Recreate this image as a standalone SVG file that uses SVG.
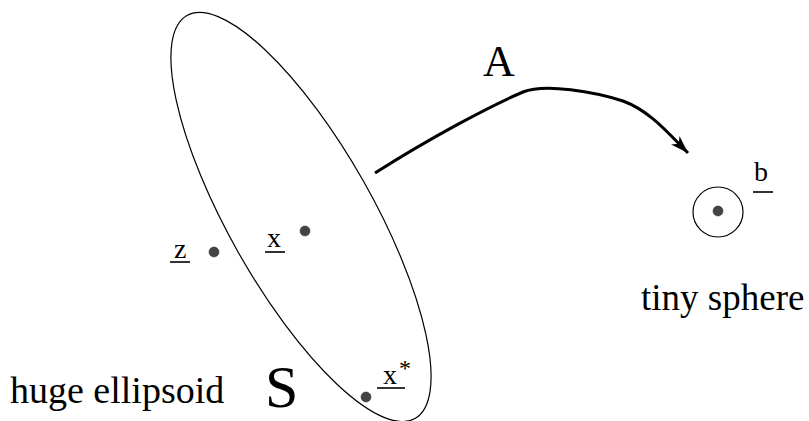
<svg xmlns="http://www.w3.org/2000/svg" width="809" height="421" viewBox="0 0 809 421">
<style>
.t{font-family:'Liberation Serif','Times New Roman','DejaVu Serif',serif;fill:#000}
.lab{font-size:28px}
.ul{stroke:#000;stroke-width:1.6}
.dot{fill:#444;stroke:#222;stroke-width:0.5}
</style>
<defs>
<marker id="ah" markerWidth="20" markerHeight="12" refX="18" refY="6" orient="auto" markerUnits="userSpaceOnUse">
<path d="M0,0 L18,6 L0,12 L5,6 Z" fill="#000"/>
</marker>
</defs>
<rect width="809" height="421" fill="#fff"/>
<g id="ellipsoid">
<ellipse cx="301" cy="217" rx="231.5" ry="72" transform="rotate(60.5 301 217)" fill="none" stroke="#000" stroke-width="1.2"/>
<text class="t" x="10" y="403" font-size="38">huge ellipsoid</text>
<text class="t" x="265" y="407" font-size="60">S</text>
</g>
<g id="point-z">
<circle class="dot" cx="214" cy="252" r="5"/>
<text class="t lab" x="174" y="258">z</text>
<line class="ul" x1="170" y1="262" x2="190" y2="262"/>
</g>
<g id="point-x">
<circle class="dot" cx="305" cy="231" r="5"/>
<text class="t lab" x="267" y="247">x</text>
<line class="ul" x1="265" y1="252" x2="285" y2="252"/>
</g>
<g id="point-xstar">
<circle class="dot" cx="366" cy="397" r="5"/>
<text class="t lab" x="383" y="384">x</text>
<text class="t" x="399" y="376" font-size="24">*</text>
<line class="ul" x1="377" y1="388" x2="405" y2="388"/>
</g>
<g id="sphere">
<circle cx="718" cy="212" r="25" fill="none" stroke="#000" stroke-width="1.2"/>
<circle class="dot" cx="718" cy="211" r="5"/>
<text class="t lab" x="754" y="181">b</text>
<line class="ul" x1="753" y1="192" x2="773" y2="192"/>
<text class="t" x="641" y="310" font-size="37">tiny sphere</text>
</g>
<g id="connectors">
<path d="M375,173 C430,138 490,106 523,92 C545,83 595,92 623,101 C650,111 668,133 688,153" fill="none" stroke="#000" stroke-width="3" marker-end="url(#ah)"/>
<text class="t" x="483" y="76" font-size="44">A</text>
</g>
</svg>
